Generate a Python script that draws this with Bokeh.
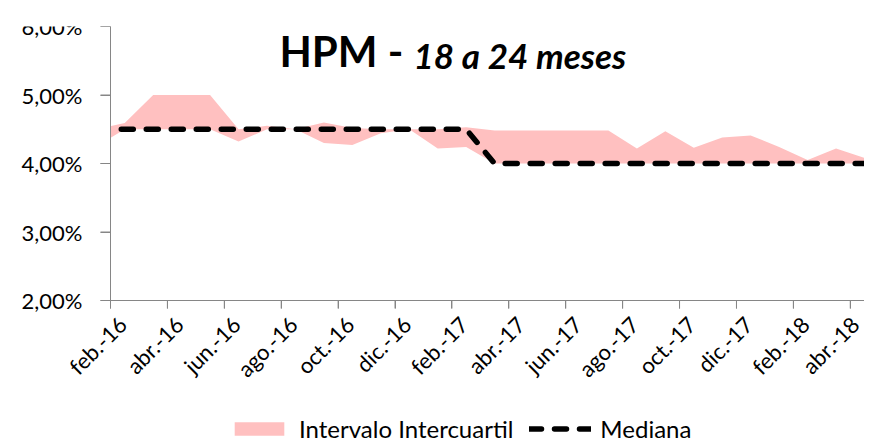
import math
from bokeh.plotting import figure
from bokeh.models import (FixedTicker, Range1d, Legend, LegendItem, Label,
                          ColumnDataSource, LinearAxis)
from bokeh.embed import file_html
from bokeh.resources import INLINE

# ---- data -------------------------------------------------------------
months = ["ene.-16", "feb.-16", "mar.-16", "abr.-16", "may.-16", "jun.-16",
          "jul.-16", "ago.-16", "sep.-16", "oct.-16", "nov.-16", "dic.-16",
          "ene.-17", "feb.-17", "mar.-17", "abr.-17", "may.-17", "jun.-17",
          "jul.-17", "ago.-17", "sep.-17", "oct.-17", "nov.-17", "dic.-17",
          "ene.-18", "feb.-18", "mar.-18", "abr.-18"]

# percentile 75 (upper quartile), %
upper = [4.50, 4.59, 5.00, 5.00, 5.00, 4.50, 4.55, 4.50, 4.60, 4.52, 4.50, 4.50,
         4.50, 4.53, 4.48, 4.48, 4.48, 4.48, 4.48, 4.22, 4.47, 4.23, 4.38, 4.41,
         4.24, 4.05, 4.22, 4.08]
# percentile 25 (lower quartile), %
lower = [4.25, 4.50, 4.50, 4.50, 4.50, 4.32, 4.50, 4.50, 4.30, 4.27, 4.44, 4.50,
         4.22, 4.24, 4.00, 4.00, 4.00, 4.00, 4.00, 4.00, 4.00, 4.00, 4.00, 4.00,
         4.00, 4.00, 4.00, 4.00]
# median, %
median = [4.50, 4.50, 4.50, 4.50, 4.50, 4.50, 4.50, 4.50, 4.50, 4.50, 4.50, 4.50,
          4.50, 4.50, 4.00, 4.00, 4.00, 4.00, 4.00, 4.00, 4.00, 4.00, 4.00, 4.00,
          4.00, 4.00, 4.00, 4.00]

y_ticks = [2, 3, 4, 5, 6]
y_tick_labels = ["2,00%", "3,00%", "4,00%", "5,00%", "6,00%"]

title_main = "HPM -"
title_sub = "18 a 24 meses"

# ---- layout constants --------------------------------------------------
LEFT = 110        # pixels left of the y axis (tick labels)
AXIS_H = 274      # pixel height of the 2%..6% span
AXIS_W = 754      # pixel width from feb.-16 to the last survey point
FRAME_H = 418     # frame extends below the x axis to hold labels + legend
FRAME_W = LEFT + AXIS_W
y_lo, y_hi = y_ticks[0], y_ticks[-1]
px_per_pct = AXIS_H / (y_hi - y_lo)
y_start = y_lo - (FRAME_H - AXIS_H) / px_per_pct

# ---- derived positions (month index; survey taken mid-month) ----------
x_mid = [i + 0.5 for i in range(len(months))]
tick_idx = list(range(1, len(months), 2))
x_axis_start = tick_idx[0]
x_end = x_mid[-1]
px_per_month = AXIS_W / (x_end - x_axis_start)
x_start = x_axis_start - LEFT / px_per_month
LABEL_SHIFT = 0.42   # rotated labels sit slightly right of their tick
label_pos = [t + LABEL_SHIFT for t in tick_idx]
src = ColumnDataSource(dict(x=x_mid, upper=upper, lower=lower, median=median))

FONT = "Lato"
AX = "#868686"

p = figure(frame_width=FRAME_W, frame_height=FRAME_H, output_backend="svg",
           toolbar_location=None,
           x_range=Range1d(x_start, x_end), y_range=Range1d(y_start, y_hi),
           min_border_left=0, min_border_right=0, min_border_top=26,
           min_border_bottom=0, outline_line_color=None,
           x_axis_location=None, y_axis_location=None)
p.background_fill_color = "white"
p.xgrid.visible = False
p.ygrid.visible = False

band = p.varea(x="x", y1="lower", y2="upper", source=src,
               fill_color="#FFC0C0", fill_alpha=1.0)
med = p.line(x="x", y="median", source=src, line_color="black", line_width=5.5,
             line_dash="12 13", line_cap="round")
# the plot area starts at the y axis: mask whatever lies left of it
p.quad(left=[x_start], right=[x_axis_start], bottom=[y_start], top=[y_hi],
       fill_color="white", line_color=None)

# axis lines and tick marks (drawn as marks too, in case the axis omits them)
p.segment(x0=[x_axis_start], y0=[y_lo], x1=[x_end], y1=[y_lo],
          line_color=AX, line_width=1)
p.segment(x0=[x_axis_start], y0=[y_lo], x1=[x_axis_start], y1=[y_hi],
          line_color=AX, line_width=1)
p.segment(x0=tick_idx, y0=[y_lo] * len(tick_idx), x1=tick_idx,
          y1=[y_lo - 8 / px_per_pct] * len(tick_idx), line_color=AX, line_width=1)
p.segment(x0=[x_axis_start] * len(y_ticks), y0=y_ticks,
          x1=[x_axis_start - 10 / px_per_month] * len(y_ticks), y1=y_ticks,
          line_color=AX, line_width=1)

# y axis at feb.-16
ya = LinearAxis(ticker=FixedTicker(ticks=y_ticks), fixed_location=x_axis_start,
                bounds=(y_lo, y_hi),
                major_label_overrides={t: l for t, l in zip(y_ticks, y_tick_labels)},
                axis_line_color=AX, major_tick_line_color=AX,
                major_tick_in=0, major_tick_out=10, minor_tick_line_color=None,
                major_label_text_font=FONT, major_label_text_font_size="22px",
                major_label_text_color="black", major_label_standoff=18)
p.add_layout(ya, "left")

# x axis at 2%: tick marks (as minor ticks) at month starts, rotated labels beside
xa = LinearAxis(ticker=FixedTicker(ticks=label_pos, minor_ticks=tick_idx),
                fixed_location=y_lo, bounds=(x_axis_start, x_end),
                major_label_overrides={pos: months[i] for pos, i in zip(label_pos, tick_idx)},
                axis_line_color=AX, major_tick_line_color=None,
                major_tick_in=0, major_tick_out=8,
                minor_tick_line_color=AX, minor_tick_in=0, minor_tick_out=8,
                major_label_standoff=12,
                major_label_orientation=math.pi / 4,
                major_label_text_font=FONT, major_label_text_font_size="22px",
                major_label_text_color="black")
p.add_layout(xa, "below")

# title inside the plot area
p.add_layout(Label(x=LEFT + 169, y=FRAME_H - 49, x_units="screen", y_units="screen",
                   text=title_main, text_font=FONT, text_font_size="42px",
                   text_font_style="bold", text_color="black"))
p.add_layout(Label(x=LEFT + 303, y=FRAME_H - 49, x_units="screen", y_units="screen",
                   text=title_sub, text_font=FONT, text_font_size="35px",
                   text_font_style="bold italic", text_color="black"))

legend = Legend(items=[LegendItem(label="Intervalo Intercuartil", renderers=[band]),
                       LegendItem(label="Mediana", renderers=[med])],
                orientation="horizontal", location=(LEFT + 118, 1),
                label_text_font=FONT, label_text_font_size="24px",
                label_text_color="black", glyph_width=62, glyph_height=17,
                spacing=16, label_standoff=9, border_line_color=None,
                background_fill_alpha=0, padding=0, margin=0)
p.add_layout(legend, "center")

open("out.html", "w").write(file_html(p, INLINE))
